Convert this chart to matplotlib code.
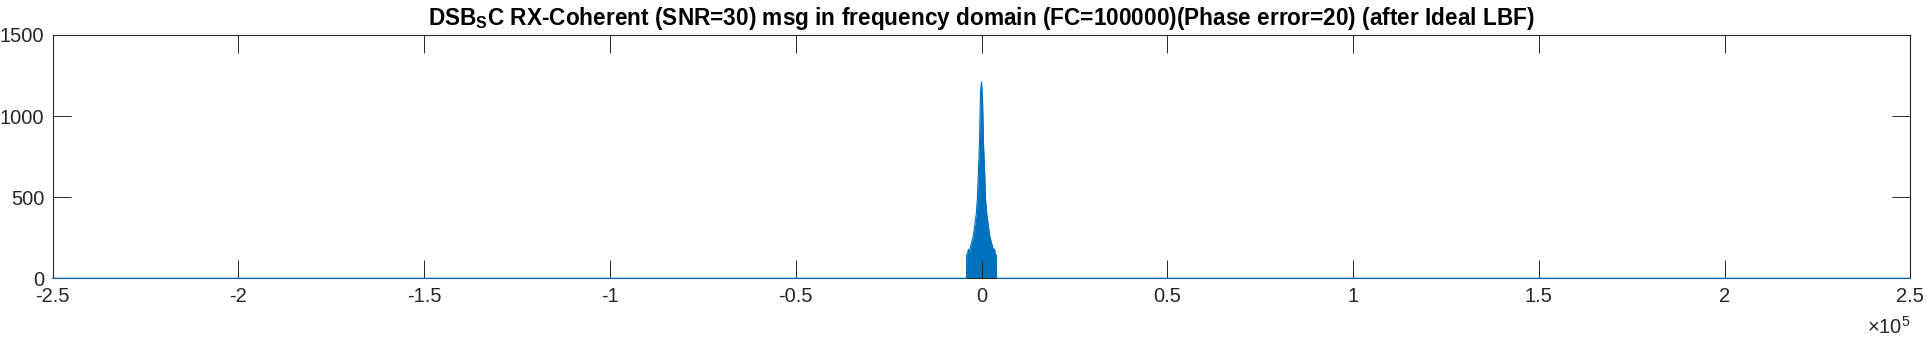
import numpy as np
import matplotlib.pyplot as plt

plt.rcParams['font.family'] = ['Liberation Sans', 'DejaVu Sans']
plt.rcParams['mathtext.fontset'] = 'custom'
plt.rcParams['mathtext.rm'] = 'Liberation Sans'
plt.rcParams['mathtext.bf'] = 'Liberation Sans:bold'
plt.rcParams['axes.unicode_minus'] = False

# spectrum magnitude (Hz, |X(f)|)
freq_hz = [-250000, -4050, -4000, -3700, -3500, -3300, -2900, -2250, -1800, -1400,
           -1100, -800, -540, -270, 0, 270, 540, 800, 1100, 1400,
           1800, 2250, 2900, 3300, 3500, 3700, 4000, 4050, 250000]
magnitude = [0, 0, 145, 160, 180, 150, 200, 256, 330, 400,
             500, 680, 850, 1150, 1210, 1100, 820, 680, 480, 400,
             330, 256, 200, 165, 180, 150, 140, 0, 0]

x_ticks = [-2.5e5, -2e5, -1.5e5, -1e5, -0.5e5, 0, 0.5e5, 1e5, 1.5e5, 2e5, 2.5e5]
x_tick_labels = ['-2.5', '-2', '-1.5', '-1', '-0.5', '0', '0.5', '1', '1.5', '2', '2.5']
y_ticks = [0, 500, 1000, 1500]

title = r"DSB$_\mathbf{S}$C RX-Coherent (SNR=30) msg in frequency domain (FC=100000)(Phase error=20) (after Ideal LBF)"

blue = '#0072BD'
dark = '#262626'

fig = plt.figure(figsize=(19.27, 3.41), dpi=100)
ax = fig.add_axes([0.02735, 0.1839, 0.9640, 0.7135])

ax.fill_between(freq_hz, 0, magnitude, color=blue, linewidth=0)
ax.plot(freq_hz, magnitude, color=blue, linewidth=0.8, clip_on=False, zorder=3)

ax.set_xlim(-2.5e5, 2.5e5)
ax.set_ylim(0, 1500)
ax.set_xticks(x_ticks)
ax.set_xticklabels(x_tick_labels)
ax.set_yticks(y_ticks)

ax.tick_params(direction='in', length=13, width=0.7, top=True, right=True,
               labelsize=14.5, colors=dark, pad=6)
for s in ax.spines.values():
    s.set_linewidth(0.8)
    s.set_color(dark)

ax.text(1.0, -0.155, r'$\times10^5$', transform=ax.transAxes, ha='right', va='top',
        fontsize=14.5, color=dark)

ax.set_title(title, fontsize=16.3, fontweight='bold', pad=7)

fig.savefig('out.png', dpi=100)
